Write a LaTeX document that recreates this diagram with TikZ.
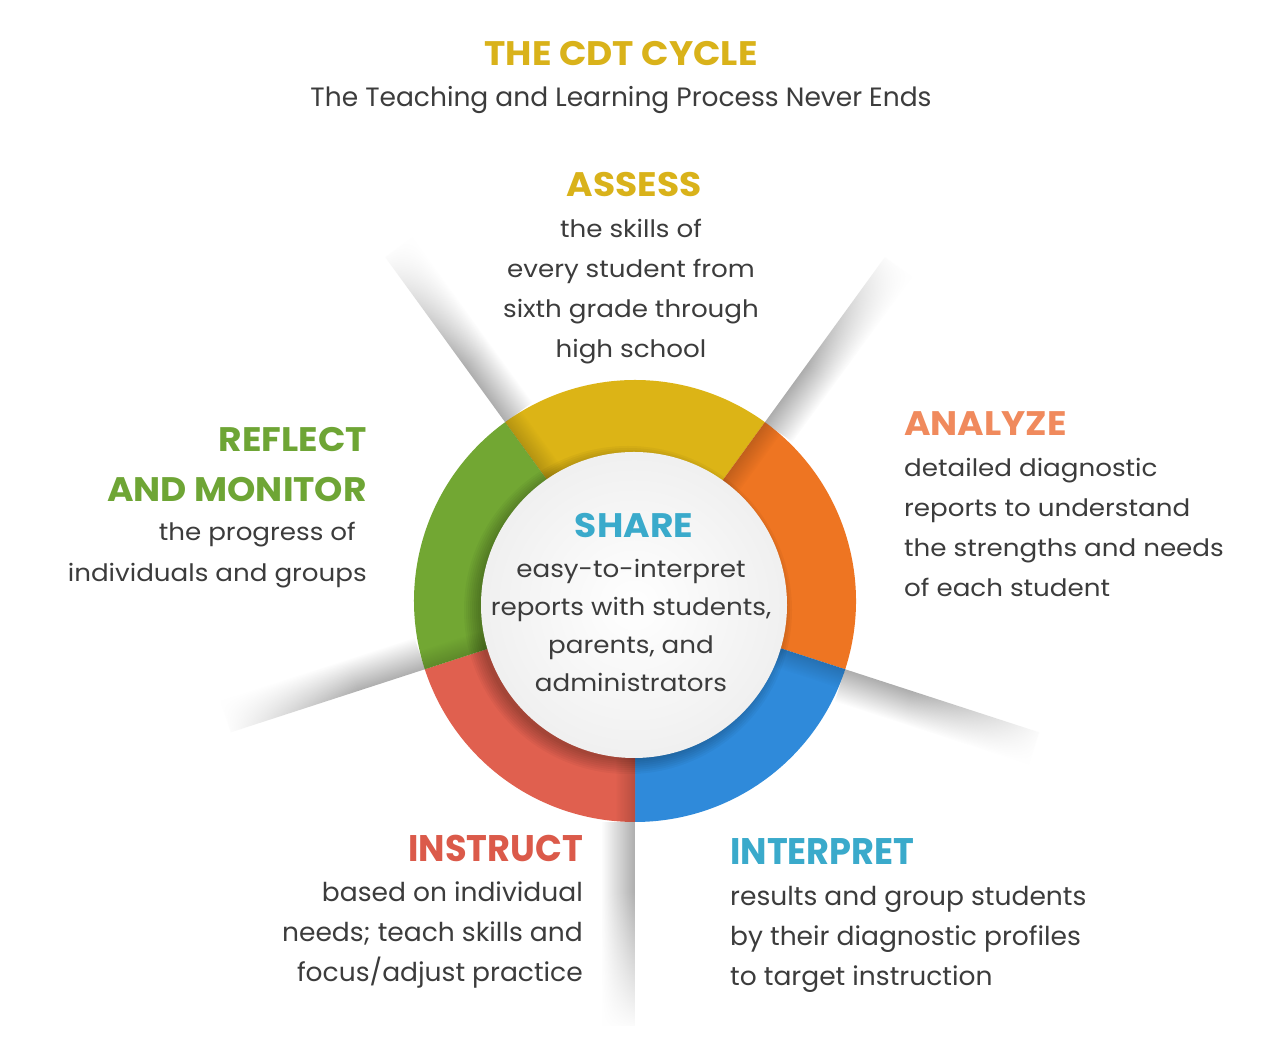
\documentclass[tikz,border=0pt]{standalone}
\usepackage{fontspec}
\setmainfont{Poppins}
\newfontfamily\widef[FakeStretch=1.09]{Poppins}
\newfontfamily\headf[FakeStretch=1.06]{Poppins}
\newfontfamily\condf[FakeStretch=1.02]{Poppins}
\newfontfamily\condhf[FakeStretch=0.95]{Poppins}
\usetikzlibrary{fadings}
\definecolor{ringY}{HTML}{DCB416}
\definecolor{ringO}{HTML}{EE7522}
\definecolor{ringB}{HTML}{2F8ADA}
\definecolor{ringR}{HTML}{E0604F}
\definecolor{ringG}{HTML}{72A733}
\definecolor{tGold}{HTML}{D9B21A}
\definecolor{tSalmon}{HTML}{F08A5D}
\definecolor{tCyan}{HTML}{3AAACB}
\definecolor{tRed}{HTML}{DB5A4A}
\definecolor{tGreen}{HTML}{6EA535}
\definecolor{bodyc}{HTML}{3C3C3C}
\tikzfading[name=perpfade, top color=transparent!0, middle color=transparent!70, bottom color=transparent!100]
\tikzfading[name=alongfade, left color=transparent!100, right color=transparent!0]
\tikzset{
  body/.style={text=bodyc, font=\widef\fontsize{24}{28}\selectfont, inner sep=0pt},
  cbody/.style={text=bodyc, font=\condf\fontsize{26}{30}\selectfont, inner sep=0pt},
  head/.style={font=\headf\bfseries\fontsize{34}{38}\selectfont, inner sep=0pt},
  chead/.style={font=\condhf\bfseries\fontsize{37}{40}\selectfont, inner sep=0pt},
}
\newcommand{\rayshadow}[1]{%
  \begin{scope}[transform canvas={shift={(635,455)}, rotate=#1}]
    \fill[black, fill opacity=0.18, path fading=perpfade] (140,0) rectangle (221,-20);
    \fill[black, fill opacity=0.32, path fading=perpfade] (221,0) rectangle (425,-34);
    \fill[white, path fading=alongfade] (290,2) rectangle (430,-38);
  \end{scope}}
\begin{document}
\begin{tikzpicture}[x=1pt,y=1pt]
\useasboundingbox (0,0) rectangle (1280,1056);
\fill[white] (0,0) rectangle (1280,1056);
% ring segments
\begin{scope}[shift={(635,455)}]
  \fill[ringY] (54:221) arc[start angle=54,end angle=126,radius=221] -- (126:130) arc[start angle=126,end angle=54,radius=130] -- cycle;
  \fill[ringO] (-18:221) arc[start angle=-18,end angle=54,radius=221] -- (54:130) arc[start angle=54,end angle=-18,radius=130] -- cycle;
  \fill[ringB] (-90:221) arc[start angle=-90,end angle=-18,radius=221] -- (-18:130) arc[start angle=-18,end angle=-90,radius=130] -- cycle;
  \fill[ringR] (198:221) arc[start angle=198,end angle=270,radius=221] -- (270:130) arc[start angle=270,end angle=198,radius=130] -- cycle;
  \fill[ringG] (126:221) arc[start angle=126,end angle=198,radius=221] -- (198:130) arc[start angle=198,end angle=126,radius=130] -- cycle;
\end{scope}
% shadows along the boundaries
\rayshadow{126}
\rayshadow{54}
\rayshadow{-18}
\rayshadow{270}
\rayshadow{198}
% drop shadow of the inner disc
\foreach \k in {0,...,7}{
  \fill[black, opacity=0.035] (628,446) circle ({150+2*\k});
}
\shade[inner color=white, outer color=black!6] (634,451) circle (153);
% title
\node[head, text=tGold, anchor=base] (title) at (621,990) {THE CDT CYCLE};
\node[text=bodyc, font=\fontsize{26.5}{30}\selectfont, inner sep=0pt, anchor=base] (subtitle) at (621,949) {The Teaching and Learning Process Never Ends};
% assess
\node[head, text=tGold, anchor=base] (assessH) at (634,859) {ASSESS};
\node[body, anchor=base] (as1) at (631,818) {the skills of};
\node[body, anchor=base] (as2) at (631,778) {every student from};
\node[body, anchor=base] (as3) at (631,738) {sixth grade through};
\node[body, anchor=base] (as4) at (631,698) {high school};
% analyze
\node[head, text=tSalmon, anchor=base west] (analyzeH) at (904,620) {ANALYZE};
\node[body, anchor=base west] (an1) at (904,579) {detailed diagnostic};
\node[body, anchor=base west] (an2) at (904,539) {reports to understand};
\node[body, anchor=base west] (an3) at (904,499) {the strengths and needs};
\node[body, anchor=base west] (an4) at (904,459) {of each student};
% reflect
\node[head, text=tGreen, anchor=base east] (reflectH1) at (367,604) {REFLECT};
\node[head, text=tGreen, anchor=base east] (reflectH2) at (367,554) {AND MONITOR};
\node[body, anchor=base east] (re1) at (356,515) {the progress of};
\node[body, anchor=base east] (re2) at (367,474) {individuals and groups};
% share
\node[head, text=tCyan, anchor=base] (shareH) at (634,518) {SHARE};
\node[body, anchor=base] (sh1) at (631,478) {easy-to-interpret};
\node[body, anchor=base] (sh2) at (631,440) {reports with students,};
\node[body, anchor=base] (sh3) at (631,402) {parents, and};
\node[body, anchor=base] (sh4) at (631,364) {administrators};
% instruct
\node[chead, text=tRed, anchor=base east] (instructH) at (583,194) {INSTRUCT};
\node[cbody, anchor=base east] (in1) at (583,154) {based on individual};
\node[cbody, anchor=base east] (in2) at (583,114) {needs; teach skills and};
\node[cbody, anchor=base east] (in3) at (583,74) {focus/adjust practice};
% interpret
\node[chead, text=tCyan, anchor=base west] (interpretH) at (730,191) {INTERPRET};
\node[cbody, anchor=base west] (ip1) at (730,150) {results and group students};
\node[cbody, anchor=base west] (ip2) at (730,110) {by their diagnostic profiles};
\node[cbody, anchor=base west] (ip3) at (730,70) {to target instruction};
\end{tikzpicture}
\end{document}
